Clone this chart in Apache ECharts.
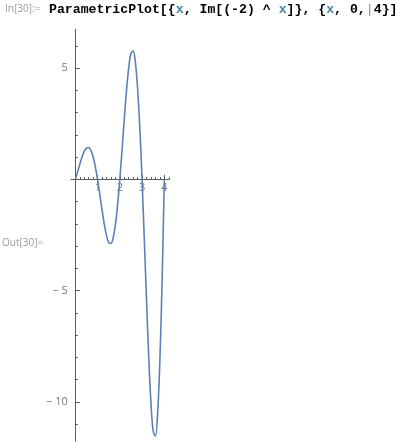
<!DOCTYPE html>
<html>
<head>
<meta charset="utf-8">
<script src="https://cdn.jsdelivr.net/npm/echarts@6/dist/echarts.min.js"></script>
<style>
html,body{margin:0;padding:0;background:#fff;}
#chart{width:414px;height:443px;}
</style>
</head>
<body>
<div id="chart"></div>
<script>
var xValues = [0,0.1,0.2,0.3,0.4,0.5,0.6,0.7,0.8,0.9,1.0,1.1,1.2,1.3,1.4,1.5,1.6,1.7,1.8,1.9,2.0,2.1,2.2,2.3,2.4,2.5,2.6,2.7,2.8,2.9,3.0,3.1,3.2,3.3,3.4,3.5,3.6,3.7,3.8,3.9,4.0];
var yValues = [0,0.33,0.68,1.0,1.26,1.41,1.44,1.31,1.02,0.58,0,-0.66,-1.35,-1.99,-2.51,-2.83,-2.88,-2.63,-2.05,-1.15,0,1.33,2.70,3.98,5.02,5.66,5.77,5.26,4.09,2.31,0,-2.65,-5.40,-7.97,-10.04,-11.31,-11.53,-10.51,-8.19,-4.61,0];
var xTickLabels = [1,2,3,4];
var xMinorTicks = [0.2,0.4,0.6,0.8,1.2,1.4,1.6,1.8,2.2,2.4,2.6,2.8,3.2,3.4,3.6,3.8,4.2];
var yTickLabels = [-10,-5,5];
var yMinorTicks = [-11,-9,-8,-7,-6,-4,-3,-2,-1,1,2,3,4,6];
var inputLabel = 'In[30]:=';
var outputLabel = 'Out[30]=';
var codeSegments = [
  ['ParametricPlot[{', 'k'], ['x', 'v'], [', Im[(-2) ^ ', 'k'], ['x', 'v'],
  [']}, {', 'k'], ['x', 'v'], [', 0,', 'k'], ['|', 'c'], ['4}]', 'k']
];

var chart = echarts.init(document.getElementById('chart'), null, {renderer: 'canvas'});

var pts = xValues.map(function (x, i) { return [x, yValues[i]]; });

var axisColor = '#5a5a5a';
var labelColor = '#7d756e';
var labelFont = '"Open Sans", "Noto Sans", sans-serif';

var X_MIN = -0.2, X_MAX = 4.22, Y_MIN = -11.75, Y_MAX = 6.75;
var PX = 22.25; // pixels per unit, both directions (aspect ratio 1)
var gLeft = 70.85, gTop = 29.3;

// header code text (monospace, coloured segments)
var fs = 13.2, cw = fs * 0.6, startX = 49;
var segColors = {k: '#000000', v: '#3f87a6', c: '#8a8a8a'};
var headerEls = [];
var idx = 0;
codeSegments.forEach(function (s) {
  headerEls.push({
    type: 'text',
    x: startX + idx * cw,
    y: 9.5,
    style: {
      text: s[0],
      fill: segColors[s[1]],
      font: (s[1] === 'c' ? 'normal ' : 'bold ') + fs + 'px "Liberation Mono", "DejaVu Sans Mono", monospace',
      textVerticalAlign: 'middle'
    }
  });
  idx += s[0].length;
});
headerEls.push({
  type: 'text', x: 5, y: 9.5,
  style: {text: inputLabel, fill: '#9a9a9a', font: '10px "Open Sans", sans-serif', textVerticalAlign: 'middle'}
});
headerEls.push({
  type: 'text', x: 2, y: 243.5,
  style: {text: outputLabel, fill: '#9a9a9a', font: '10px "Open Sans", sans-serif', textVerticalAlign: 'middle'}
});

function fmtY(v) { return v < 0 ? '\u2212 ' + Math.abs(v) : String(v); }

var option = {
  backgroundColor: '#ffffff',
  animation: false,
  grid: [
    {left: gLeft, top: gTop, width: (X_MAX - X_MIN) * PX, height: (Y_MAX - Y_MIN) * PX, containLabel: false, outerBoundsMode: 'none'},
    {left: gLeft, top: gTop, width: (X_MAX - X_MIN) * PX, height: Y_MAX * PX, containLabel: false, outerBoundsMode: 'none'}
  ],
  xAxis: [{
    gridIndex: 0, type: 'value', min: X_MIN, max: X_MAX, show: false
  }, {
    gridIndex: 1, type: 'value', min: X_MIN, max: X_MAX, position: 'bottom',
    axisLine: {show: true, onZero: false, lineStyle: {color: axisColor, width: 1}},
    axisTick: {show: true, inside: true, length: 4.5, customValues: xTickLabels, lineStyle: {color: axisColor}},
    axisLabel: {show: true, customValues: xTickLabels, color: labelColor, fontSize: 11, fontFamily: labelFont, margin: 3},
    splitLine: {show: false}
  }, {
    gridIndex: 1, type: 'value', min: X_MIN, max: X_MAX, position: 'bottom',
    axisLine: {show: false, onZero: false},
    axisTick: {show: true, inside: true, length: 2.5, customValues: xMinorTicks, lineStyle: {color: axisColor}},
    axisLabel: {show: false},
    splitLine: {show: false}
  }],
  yAxis: [{
    gridIndex: 0, type: 'value', min: Y_MIN, max: Y_MAX, position: 'left',
    axisLine: {show: true, onZero: true, onZeroAxisIndex: 0, lineStyle: {color: axisColor, width: 1}},
    axisTick: {show: true, inside: true, length: 4.5, customValues: yTickLabels, lineStyle: {color: axisColor}},
    axisLabel: {show: true, customValues: yTickLabels, formatter: fmtY, color: labelColor, fontSize: 11, fontFamily: labelFont, margin: 3},
    splitLine: {show: false}
  }, {
    gridIndex: 0, type: 'value', min: Y_MIN, max: Y_MAX, position: 'left',
    axisLine: {show: false, onZero: true, onZeroAxisIndex: 0},
    axisTick: {show: true, inside: true, length: 2.5, customValues: yMinorTicks, lineStyle: {color: axisColor}},
    axisLabel: {show: false},
    splitLine: {show: false}
  }, {
    gridIndex: 1, type: 'value', min: 0, max: Y_MAX, show: false
  }],
  graphic: headerEls,
  series: [{
    type: 'line',
    xAxisIndex: 0, yAxisIndex: 0,
    data: pts,
    smooth: 0.35,
    showSymbol: false,
    symbol: 'none',
    clip: false,
    lineStyle: {color: '#5e81b5', width: 1.6}
  }]
};
chart.setOption(option);
</script>
</body>
</html>
